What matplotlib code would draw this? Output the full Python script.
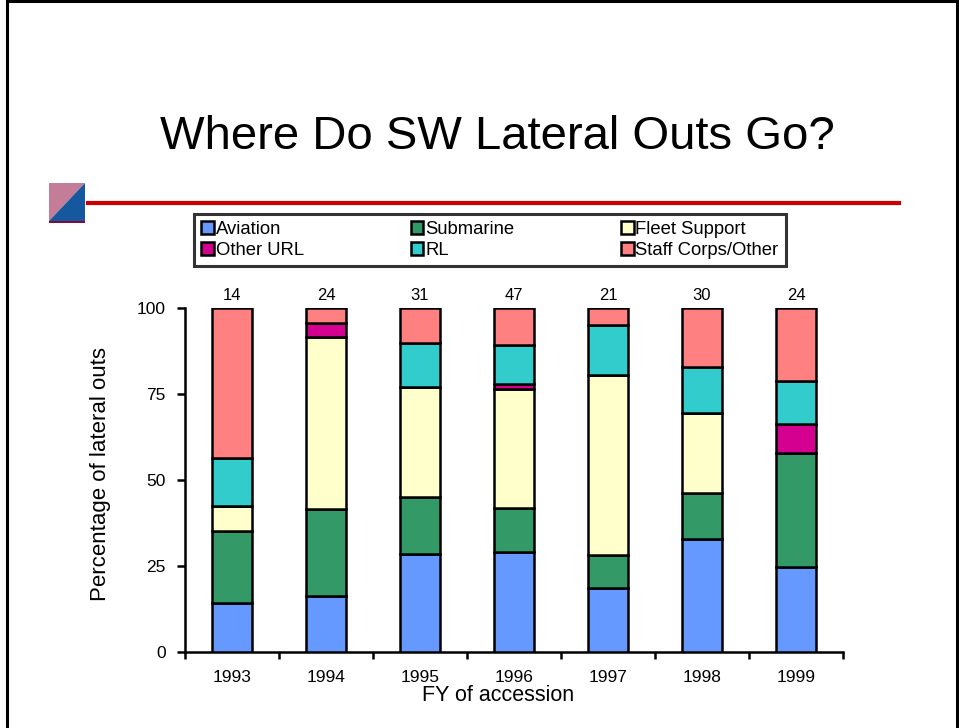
import matplotlib
matplotlib.use("Agg")
import matplotlib.pyplot as plt
from matplotlib.patches import Patch, Rectangle, Polygon
from matplotlib.lines import Line2D
import numpy as np

plt.rcParams['font.family'] = ['Liberation Sans', 'DejaVu Sans']

# data (percent of lateral outs per FY)
years = ['1993', '1994', '1995', '1996', '1997', '1998', '1999']
counts = [14, 24, 31, 47, 21, 30, 24]
aviation = [14.0, 16.2, 28.4, 29.0, 18.5, 32.6, 24.5]
submarine = [20.9, 25.1, 16.4, 12.8, 9.5, 13.4, 33.2]
fleet_support = [7.3, 50.0, 32.0, 34.5, 52.3, 23.3, 0.0]
other_url = [0.0, 4.2, 0.0, 1.6, 0.0, 0.0, 8.5]
rl = [14.1, 0.0, 12.8, 11.1, 14.5, 13.3, 12.4]
staff_corps = [43.7, 4.5, 10.4, 11.0, 5.2, 17.4, 21.4]

series = [
    ('Aviation', aviation, '#6699ff'),
    ('Submarine', submarine, '#339966'),
    ('Fleet Support', fleet_support, '#ffffcc'),
    ('Other URL', other_url, '#d40090'),
    ('RL', rl, '#33cccc'),
    ('Staff Corps/Other', staff_corps, '#ff8080'),
]

W, H = 959, 728
fig = plt.figure(figsize=(W / 100, H / 100), dpi=100)
fig.patch.set_facecolor('white')


def fx(px):
    return px / W


def fy(py):
    return 1 - py / H


# slide frame
fig.patches.append(Rectangle((fx(7), fy(735)), fx(950), (735 - 1) / H, transform=fig.transFigure,
                             fill=False, edgecolor='black', linewidth=2.2, clip_on=False))

# title + red rule + small icon
fig.text(fx(497), fy(137), 'Where Do SW Lateral Outs Go?', fontsize=34, ha='center', va='center')
fig.lines.append(Line2D([fx(88), fx(899)], [fy(203), fy(203)], transform=fig.transFigure,
                        color='#cc0000', linewidth=3))
fig.patches.append(Polygon([(fx(49), fy(183)), (fx(85), fy(183)), (fx(49), fy(221))],
                           closed=True, transform=fig.transFigure, facecolor='#c47d98', edgecolor='none'))
fig.patches.append(Polygon([(fx(85), fy(183)), (fx(85), fy(221)), (fx(49), fy(221))],
                           closed=True, transform=fig.transFigure, facecolor='#15589e', edgecolor='none'))
fig.patches.append(Rectangle((fx(49), fy(223)), fx(36), 2.5 / H, transform=fig.transFigure,
                             facecolor='#800a3c', edgecolor='none'))

ax = fig.add_axes([fx(185), fy(651.5), fx(843) - fx(185), (651.5 - 307.5) / H])

x = np.arange(len(years))
bottom = np.zeros(len(years))
for name, vals, col in series:
    ax.bar(x, vals, width=0.43, bottom=bottom, color=col, edgecolor='black', linewidth=1.8, zorder=3)
    bottom = bottom + np.array(vals)

for i, n in enumerate(counts):
    ax.annotate(str(n), (x[i], 100), xytext=(0, 3), textcoords='offset points',
                ha='center', va='bottom', fontsize=12)

ax.set_xlim(-0.5, len(years) - 0.5)
ax.set_ylim(0, 100)
ax.set_yticks([0, 25, 50, 75, 100])
ax.set_xticks(np.arange(-0.5, len(years)), labels=[''] * (len(years) + 1))
ax.set_xticks(x, labels=years, minor=True)
ax.tick_params(axis='x', which='minor', length=0, pad=13, labelsize=12.5)
ax.tick_params(axis='x', which='major', length=5, width=1.8, direction='out')
ax.tick_params(axis='y', length=6, width=1.8, direction='out', labelsize=12.5, pad=8)
for s in ['top', 'right']:
    ax.spines[s].set_visible(False)
for s in ['left', 'bottom']:
    ax.spines[s].set_linewidth(1.8)
ax.set_xlabel('FY of accession', fontsize=15.5)
ax.xaxis.set_label_coords(0.476, -0.098)
ax.set_ylabel('Percentage of lateral outs', fontsize=16, va='center')
ax.yaxis.set_label_coords(-0.129, 0.516)

# legend (column-wise order so rows read as in the slide)
handles = {name: Patch(facecolor=col, edgecolor='black', linewidth=1.8) for name, vals, col in series}
order = ['Aviation', 'Other URL', 'Submarine', 'RL', 'Fleet Support', 'Staff Corps/Other']
leg = fig.legend([handles[k] for k in order], order, ncol=3, mode='expand',
                 loc='upper left', bbox_to_anchor=(fx(194), fy(214), fx(786) - fx(194), 0.0),
                 bbox_transform=fig.transFigure, fontsize=13.3, frameon=True, fancybox=False,
                 edgecolor='black', handlelength=0.7, handleheight=0.7, handletextpad=0.1,
                 borderpad=0.4, labelspacing=0.2, borderaxespad=0)
leg.get_frame().set_linewidth(2.2)

fig.savefig('out.png', dpi=100)
